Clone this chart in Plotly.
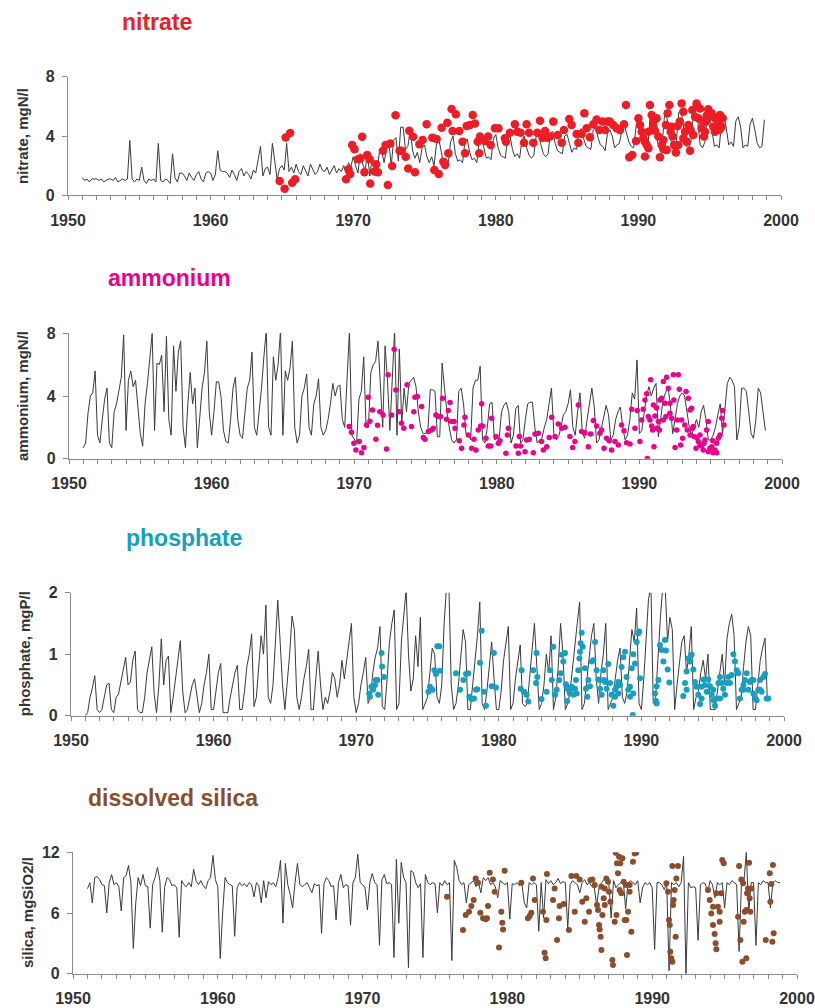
import plotly.graph_objects as go

# ---------------- data ----------------
START_YEAR = 1951
PER_YEAR = 6  # bi-monthly samples of the model line

nitrate_line = [
    [1.2, 1.0, 1.1, 0.9, 1.1, 1.1], [1.1, 1.0, 1.1, 0.9, 1.0, 1.1], [1.1, 1.0, 1.2, 0.9, 1.0, 1.1],
    [1.0, 1.1, 3.7, 1.1, 0.9, 1.1], [1.0, 1.9, 1.0, 0.8, 1.1, 1.0], [1.1, 0.9, 3.5, 1.0, 0.9, 1.1],
    [1.0, 0.8, 2.8, 1.2, 0.9, 1.5], [1.5, 1.3, 1.0, 1.5, 1.2, 1.0], [1.4, 1.6, 1.1, 0.9, 1.5, 1.6],
    [1.5, 1.0, 1.4, 3.0, 1.7, 1.6], [1.6, 1.5, 1.2, 1.7, 1.4, 1.0], [1.6, 1.8, 1.3, 1.6, 1.4, 1.1],
    [1.7, 1.5, 2.4, 3.3, 1.3, 1.8], [1.9, 1.4, 3.5, 2.2, 1.1, 1.8], [2.0, 1.7, 3.5, 1.6, 1.9, 1.5],
    [2.1, 1.6, 1.4, 2.0, 1.7, 1.3], [2.1, 1.8, 1.4, 1.6, 2.1, 1.7], [1.6, 1.9, 1.4, 1.7, 2.0, 1.5],
    [1.8, 1.6, 2.0, 1.5, 2.2, 1.9], [2.6, 2.0, 1.5, 2.8, 2.1, 1.7], [2.8, 1.3, 2.6, 2.0, 1.6, 2.9],
    [3.0, 2.2, 3.2, 3.6, 2.0, 3.7], [3.9, 2.3, 4.6, 4.6, 3.1, 3.3], [4.4, 3.0, 2.5, 2.9, 2.2, 3.2],
    [3.4, 2.6, 2.2, 2.6, 2.0, 3.4], [3.8, 3.0, 2.1, 2.5, 2.2, 3.6], [4.0, 2.8, 2.3, 2.4, 2.2, 3.6],
    [3.8, 2.9, 2.4, 2.5, 2.2, 3.6], [3.9, 3.2, 2.5, 2.6, 2.4, 3.8], [4.1, 3.2, 2.7, 2.6, 2.5, 3.9],
    [4.0, 3.1, 2.6, 2.8, 2.5, 3.7], [4.0, 3.2, 2.7, 2.5, 2.7, 4.0], [4.3, 3.4, 2.8, 2.6, 2.8, 4.2],
    [4.3, 3.5, 3.0, 2.9, 2.8, 4.0], [4.1, 3.5, 2.9, 3.2, 3.1, 4.3], [4.5, 3.8, 3.3, 3.2, 3.1, 4.4],
    [4.6, 3.9, 3.4, 3.3, 3.0, 4.2], [4.4, 4.0, 3.2, 3.4, 3.5, 4.3], [4.8, 4.2, 3.6, 3.3, 3.2, 4.6],
    [5.3, 4.2, 3.5, 3.4, 3.3, 5.5], [5.6, 4.8, 3.6, 3.2, 3.5, 5.4], [5.2, 4.5, 3.4, 3.3, 3.7, 5.6],
    [5.7, 4.6, 3.3, 3.2, 3.5, 5.2], [5.4, 5.0, 3.4, 3.2, 3.6, 5.5], [5.5, 4.3, 3.3, 3.4, 3.2, 5.0],
    [5.3, 4.5, 3.4, 3.6, 3.3, 5.0], [5.3, 4.6, 3.2, 3.4, 3.3, 4.8], [5.2, 4.4, 3.5, 3.2, 3.3, 5.1],
]

ammonium_line = [
    [0.7, 1.0, 2.9, 4.0, 4.2, 5.6], [1.5, 1.0, 2.5, 3.8, 4.5, 1.0], [0.7, 3.0, 3.5, 4.5, 5.2, 7.9],
    [1.8, 5.0, 5.6, 4.6, 5.0, 3.3], [1.6, 0.8, 3.5, 4.8, 6.7, 8.0], [1.8, 6.1, 6.0, 6.6, 3.0, 7.8],
    [2.5, 1.5, 7.2, 4.3, 6.8, 7.5], [2.0, 0.7, 3.5, 5.5, 3.5, 4.5], [0.7, 2.5, 4.5, 5.5, 7.5, 3.0],
    [1.5, 3.0, 4.9, 4.9, 3.9, 1.8], [1.1, 1.0, 2.5, 4.5, 5.2, 2.5], [1.5, 1.3, 3.0, 4.5, 5.0, 6.8],
    [2.0, 1.5, 3.0, 4.5, 6.5, 8.2], [2.0, 1.5, 6.5, 5.0, 6.0, 8.2], [1.5, 5.6, 5.0, 5.8, 7.5, 2.0],
    [1.0, 1.5, 4.0, 4.5, 5.4, 2.0], [1.5, 3.5, 4.0, 5.1, 2.0, 1.5], [1.8, 2.5, 3.5, 4.8, 4.0, 4.6],
    [4.7, 2.5, 2.0, 5.5, 8.2, 1.5], [1.2, 1.0, 3.8, 4.3, 6.5, 2.0], [2.0, 5.5, 6.0, 6.2, 7.5, 4.5],
    [2.0, 7.2, 5.0, 1.8, 5.0, 8.2], [1.5, 7.0, 2.2, 4.5, 3.0, 4.8], [5.0, 5.2, 4.6, 3.0, 2.0, 1.6],
    [1.6, 1.8, 4.4, 4.4, 4.3, 1.4], [1.4, 6.1, 4.5, 3.0, 2.0, 1.2], [1.0, 1.2, 4.3, 4.5, 3.5, 1.6],
    [1.6, 1.2, 4.5, 5.0, 5.0, 5.9], [1.2, 1.0, 2.0, 3.5, 3.6, 1.2], [1.3, 1.3, 3.0, 3.4, 3.6, 3.0],
    [1.0, 1.5, 3.2, 3.4, 1.0, 1.2], [2.5, 3.5, 3.6, 3.6, 2.0, 1.0], [1.2, 1.3, 2.0, 2.5, 3.5, 4.5],
    [1.6, 1.2, 1.4, 2.0, 2.8, 3.0], [3.5, 4.4, 2.0, 1.5, 3.0, 4.2], [1.6, 1.3, 2.5, 3.5, 4.5, 3.3],
    [1.0, 1.2, 2.0, 2.8, 3.4, 2.8], [1.2, 1.5, 2.5, 3.0, 3.3, 2.0], [1.2, 1.5, 2.5, 4.2, 3.8, 6.3],
    [1.6, 1.8, 3.0, 4.0, 4.6, 4.0], [4.5, 4.8, 1.4, 2.5, 3.8, 4.2], [4.6, 3.5, 1.6, 2.5, 3.5, 4.0],
    [4.2, 4.0, 3.0, 2.0, 1.5, 2.0], [2.5, 2.0, 3.0, 3.4, 2.5, 1.2], [1.2, 1.5, 2.0, 2.8, 3.5, 1.6],
    [3.0, 4.8, 5.2, 5.0, 4.6, 1.2], [2.0, 4.5, 4.5, 4.3, 3.0, 1.6], [1.3, 2.5, 4.5, 4.2, 3.0, 1.8],
]

phosphate_line = [
    [0.0, 0.05, 0.3, 0.45, 0.65, 0.1], [0.05, 0.1, 0.3, 0.5, 0.53, 0.1], [0.05, 0.3, 0.35, 0.55, 0.7, 0.95],
    [0.5, 0.55, 0.9, 1.05, 0.1, 0.05], [0.05, 0.3, 0.7, 0.9, 1.12, 0.35], [0.05, 0.5, 1.25, 0.5, 0.9, 0.97],
    [0.05, 0.3, 0.6, 0.9, 1.22, 0.4], [0.05, 0.1, 0.3, 0.5, 0.6, 0.3], [0.05, 0.2, 0.5, 0.7, 1.0, 0.1],
    [0.1, 0.4, 0.7, 0.85, 0.05, 0.05], [0.05, 0.3, 0.5, 0.7, 0.82, 0.1], [0.1, 0.4, 0.8, 1.0, 1.33, 0.15],
    [0.3, 0.8, 1.3, 1.0, 1.8, 0.3], [0.2, 0.5, 1.2, 1.88, 1.2, 0.5], [0.1, 0.5, 1.0, 1.62, 1.4, 0.3],
    [0.1, 0.3, 0.6, 0.8, 1.08, 0.1], [0.1, 0.6, 1.05, 0.5, 0.1, 0.3], [0.2, 0.4, 0.7, 0.6, 0.3, 0.5],
    [0.9, 0.6, 0.9, 1.2, 1.5, 0.3], [0.05, 0.2, 0.5, 0.7, 0.95, 0.2], [0.3, 0.7, 0.95, 1.1, 1.45, 0.15],
    [0.1, 0.6, 1.2, 1.5, 1.72, 0.1], [0.2, 1.2, 1.6, 2.05, 1.0, 0.4], [0.6, 1.3, 0.8, 1.6, 0.1, 0.2],
    [0.3, 0.7, 1.1, 1.0, 0.3, 0.2], [0.5, 1.5, 2.1, 2.1, 0.5, 0.1], [0.2, 0.5, 1.0, 1.4, 1.2, 0.1],
    [0.1, 0.5, 0.9, 1.3, 1.85, 0.2], [0.1, 0.4, 0.8, 1.2, 0.6, 0.1], [0.1, 0.4, 0.9, 1.2, 1.45, 0.1],
    [0.2, 0.6, 0.9, 1.15, 0.2, 0.15], [0.2, 0.6, 1.0, 1.5, 0.8, 0.1], [0.2, 0.5, 1.0, 0.7, 1.3, 0.1],
    [0.3, 0.8, 1.5, 1.0, 0.1, 0.2], [0.4, 0.8, 1.2, 1.5, 1.85, 0.1], [0.2, 0.6, 1.0, 1.3, 1.5, 0.6],
    [0.2, 0.7, 1.0, 1.5, 0.1, 0.2], [0.3, 0.6, 0.9, 1.1, 0.3, 0.2], [0.4, 0.9, 1.4, 1.2, 1.75, 0.2],
    [0.1, 0.6, 1.2, 1.9, 2.1, 0.2], [0.3, 1.0, 1.6, 2.1, 2.1, 1.2], [1.6, 1.4, 0.1, 0.5, 0.9, 1.2],
    [1.3, 0.7, 1.0, 1.45, 0.1, 0.3], [0.4, 0.7, 0.9, 0.6, 1.0, 0.1], [0.1, 0.1, 0.4, 0.7, 1.0, 0.5],
    [1.25, 1.5, 1.65, 1.3, 0.1, 0.2], [0.3, 0.8, 1.2, 1.45, 1.3, 0.1], [0.1, 0.5, 0.9, 1.1, 1.26, 0.25],
]

silica_line = [
    [8.4, 9.0, 7.0, 9.5, 9.6, 9.3], [8.8, 8.7, 6.0, 9.0, 9.8, 8.8], [9.0, 8.6, 6.2, 9.5, 9.7, 10.7],
    [9.0, 2.5, 7.0, 9.5, 8.7, 9.8], [8.7, 8.6, 4.5, 8.8, 9.5, 10.5], [9.2, 4.1, 8.6, 9.5, 9.3, 8.7],
    [8.8, 8.5, 3.6, 9.2, 8.8, 8.6], [9.0, 8.6, 10.3, 9.2, 8.8, 9.2], [8.7, 8.4, 9.2, 9.5, 11.7, 9.3],
    [8.6, 1.5, 6.0, 9.5, 9.0, 8.8], [8.7, 3.7, 8.5, 9.0, 8.7, 8.9], [8.6, 9.0, 8.8, 7.6, 9.0, 8.7],
    [7.0, 9.2, 7.5, 9.1, 8.8, 9.0], [8.6, 9.5, 11.2, 5.0, 10.9, 8.8], [7.8, 6.5, 9.0, 10.9, 8.8, 8.6],
    [8.8, 9.0, 8.5, 8.0, 8.9, 8.7], [8.8, 4.0, 8.9, 9.5, 9.2, 8.6], [8.7, 5.3, 9.0, 9.8, 8.5, 8.8],
    [8.7, 4.8, 9.0, 9.5, 11.8, 9.0], [8.8, 8.5, 6.3, 9.0, 9.9, 9.0], [8.8, 2.8, 9.3, 9.8, 8.9, 9.0],
    [8.8, 1.6, 11.3, 5.0, 11.0, 9.5], [9.0, 0.6, 10.2, 10.0, 9.0, 8.5], [8.9, 1.6, 9.8, 9.0, 8.8, 9.0],
    [8.9, 6.0, 9.0, 8.7, 9.2, 8.8], [9.0, 1.3, 11.2, 10.5, 9.2, 8.8], [9.0, 7.0, 8.8, 9.0, 9.2, 8.6],
    [9.0, 8.0, 9.5, 9.2, 9.5, 8.8], [9.0, 8.6, 7.5, 9.2, 9.0, 8.8], [9.0, 5.4, 8.9, 8.8, 9.0, 8.7],
    [8.9, 7.0, 6.5, 9.0, 8.8, 9.0], [8.8, 4.2, 9.0, 5.5, 9.3, 8.9], [9.2, 8.8, 9.0, 9.4, 8.9, 9.1],
    [9.0, 4.5, 8.8, 9.2, 9.0, 8.8], [8.0, 9.0, 9.3, 8.8, 9.0, 8.6], [8.5, 6.8, 8.5, 9.0, 9.3, 9.5],
    [9.0, 5.5, 9.2, 8.5, 8.8, 9.0], [9.2, 6.4, 9.0, 9.2, 9.0, 8.8], [9.2, 7.0, 8.5, 9.0, 8.8, 9.0],
    [8.5, 2.4, 9.0, 9.0, 8.8, 8.3], [9.0, 0.3, 9.0, 8.8, 9.0, 8.6], [9.0, 11.6, 0.0, 9.0, 8.5, 8.6],
    [8.5, 3.3, 8.8, 9.0, 8.9, 8.0], [9.2, 8.8, 7.5, 9.0, 8.8, 9.0], [6.5, 9.0, 8.8, 9.2, 9.0, 8.8],
    [2.2, 9.0, 9.1, 12.0, 6.0, 9.0], [9.0, 2.8, 9.0, 8.8, 9.2, 9.0], [9.0, 6.5, 9.0, 9.2, 9.0, 9.0],
]

nitrate_obs = [
    (1964.84, 0.97), (1965.19, 0.45), (1965.26, 3.9), (1965.58, 4.2), (1965.72, 0.85), (1965.93, 1.08),
    (1969.5, 1.08), (1969.67, 1.75), (1969.79, 1.44), (1969.93, 3.4), (1970.09, 3.1), (1970.33, 2.43),
    (1970.51, 2.5), (1970.63, 3.95), (1970.79, 1.55), (1970.98, 2.72), (1971.14, 2.43), (1971.19, 0.79),
    (1971.5, 1.6), (1971.61, 2.1), (1971.73, 1.55), (1972.08, 3.0), (1972.27, 3.4), (1972.43, 0.7),
    (1972.6, 3.5), (1972.73, 1.98), (1972.97, 5.4), (1973.25, 3.0), (1973.4, 3.0), (1973.68, 2.6),
    (1973.86, 1.8), (1973.93, 4.36), (1974.2, 3.95), (1974.33, 1.55), (1974.64, 3.44), (1974.87, 3.73),
    (1975.15, 4.79), (1975.55, 3.89), (1975.69, 1.7), (1975.85, 3.8), (1976.0, 1.44), (1976.2, 4.56),
    (1976.32, 2.27), (1976.44, 2.04), (1976.6, 4.9), (1976.67, 2.83), (1976.9, 5.82), (1976.97, 4.34),
    (1977.2, 5.46), (1977.44, 4.34), (1977.67, 3.62), (1977.84, 2.83), (1977.96, 4.67), (1978.19, 4.74),
    (1978.38, 5.42), (1978.54, 4.85), (1978.73, 3.62), (1978.84, 2.83), (1978.89, 3.96), (1979.24, 3.66),
    (1979.47, 3.96), (1979.64, 3.4), (1979.94, 4.52), (1980.18, 4.52), (1980.64, 3.84), (1980.71, 3.62),
    (1980.99, 4.22), (1981.34, 4.79), (1981.51, 4.29), (1981.74, 4.22), (1981.98, 3.55), (1982.16, 4.79),
    (1982.33, 4.22), (1982.63, 3.55), (1982.91, 4.22), (1983.1, 5.03), (1983.28, 3.89), (1983.45, 4.34),
    (1983.61, 3.89), (1983.8, 3.96), (1984.03, 4.97), (1984.34, 4.07), (1984.62, 3.55), (1984.78, 4.4),
    (1985.15, 5.15), (1985.32, 4.74), (1985.67, 4.13), (1985.79, 3.55), (1986.02, 4.13), (1986.21, 5.53),
    (1986.37, 4.52), (1986.6, 3.91), (1986.84, 4.79), (1987.07, 5.12), (1987.26, 4.4), (1987.49, 4.97),
    (1987.66, 4.4), (1987.82, 4.97), (1988.0, 4.97), (1988.24, 4.74), (1988.47, 4.52), (1988.71, 4.4),
    (1988.99, 4.79), (1989.13, 6.09), (1989.36, 2.56), (1989.57, 2.72), (1989.83, 3.66), (1990.0, 5.19),
    (1990.11, 4.74), (1990.23, 4.29), (1990.34, 3.84), (1990.46, 2.61), (1990.58, 3.39), (1990.7, 3.17),
    (1990.81, 6.09), (1990.93, 5.42), (1991.05, 4.97), (1991.16, 4.36), (1991.28, 5.19), (1991.4, 3.96),
    (1991.51, 2.56), (1991.63, 3.39), (1991.75, 3.1), (1991.93, 4.74), (1992.05, 5.53), (1992.17, 6.09),
    (1992.26, 4.29), (1992.4, 3.96), (1992.5, 3.39), (1992.63, 2.88), (1992.75, 4.67), (1992.91, 4.97),
    (1993.03, 6.2), (1993.15, 5.64), (1993.27, 4.29), (1993.38, 3.62), (1993.5, 4.74), (1993.62, 3.01),
    (1993.78, 5.75), (1993.97, 5.3), (1994.08, 6.2), (1994.2, 5.19), (1994.32, 5.86), (1994.43, 4.52),
    (1994.6, 3.96), (1994.74, 4.97), (1994.9, 5.8), (1995.02, 5.42), (1995.14, 5.53), (1995.25, 4.63),
    (1995.37, 5.19), (1995.49, 4.52), (1995.6, 4.97), (1995.72, 5.42), (1995.84, 4.63), (1995.91, 5.19),
    (1990.46, 3.62), (1991.05, 4.63), (1990.7, 4.29), (1991.75, 3.73), (1991.98, 3.06), (1992.33, 4.63),
    (1992.8, 3.39), (1993.15, 3.84), (1993.66, 4.4), (1993.85, 4.07), (1994.5, 5.0), (1994.67, 4.29),
    (1994.79, 5.39), (1995.37, 4.29), (1995.68, 4.4),
]

ammonium_obs = [
    (1969.65, 2.05), (1969.81, 1.68), (1969.98, 0.98), (1970.12, 0.55), (1970.35, 1.09), (1970.51, 0.38),
    (1970.68, 0.72), (1970.86, 2.15), (1970.98, 3.92), (1971.1, 2.39), (1971.28, 3.11), (1971.52, 1.24),
    (1971.64, 2.13), (1971.8, 3.0), (1972.03, 2.79), (1972.27, 0.62), (1972.38, 5.35), (1972.62, 2.79),
    (1972.8, 6.99), (1972.92, 4.39), (1973.15, 3.0), (1973.32, 2.26), (1973.48, 1.94), (1973.71, 4.71),
    (1974.02, 2.05), (1974.18, 3.0), (1974.26, 3.92), (1974.43, 3.97), (1974.73, 3.33), (1974.85, 1.36),
    (1974.96, 1.24), (1975.2, 1.73), (1975.43, 1.83), (1975.55, 1.94), (1975.73, 2.79), (1975.9, 2.69),
    (1976.06, 2.69), (1976.2, 3.86), (1976.48, 2.52), (1976.6, 3.07), (1976.72, 3.58), (1976.83, 2.37),
    (1977.0, 2.37), (1977.07, 1.94), (1977.37, 1.15), (1977.53, 0.66), (1977.7, 2.15), (1977.77, 2.64),
    (1978.0, 1.51), (1978.24, 0.66), (1978.4, 1.24), (1978.54, 0.55), (1978.7, 1.83), (1978.87, 2.09),
    (1978.94, 3.5), (1979.01, 2.09), (1979.24, 1.3), (1979.4, 0.81), (1979.57, 0.81), (1979.64, 2.58),
    (1979.94, 1.41), (1980.11, 0.98), (1980.22, 1.15), (1980.64, 0.34), (1980.74, 1.51), (1980.81, 1.94),
    (1981.35, 0.81), (1981.51, 0.34), (1981.58, 1.41), (1981.67, 0.81), (1981.98, 0.45), (1982.09, 1.19),
    (1982.28, 1.24), (1982.56, 0.38), (1982.68, 1.58), (1982.91, 1.62), (1983.14, 1.09), (1983.26, 0.55),
    (1983.5, 0.77), (1983.68, 1.36), (1983.85, 2.64), (1984.08, 1.41), (1984.31, 2.22), (1984.55, 1.94),
    (1984.78, 2.0), (1985.13, 1.41), (1985.32, 0.72), (1985.48, 1.09), (1985.72, 3.43), (1985.95, 1.73),
    (1986.18, 1.66), (1986.42, 0.77), (1986.58, 1.58), (1986.77, 2.43), (1987.0, 2.09), (1987.23, 1.62),
    (1987.35, 1.83), (1987.52, 0.66), (1987.7, 1.3), (1987.89, 1.15), (1988.05, 0.55), (1988.29, 1.09),
    (1988.52, 0.87), (1988.75, 2.15), (1988.92, 1.79), (1989.1, 1.02), (1989.34, 0.94), (1989.46, 3.16),
    (1989.69, 1.94), (1989.85, 3.07), (1990.04, 1.09), (1990.16, 2.47), (1990.27, 3.16), (1990.39, 3.75),
    (1990.51, 4.14), (1990.55, 0.02), (1990.62, 2.69), (1990.79, 5.03), (1990.86, 2.09), (1990.98, 3.43),
    (1991.02, 0.77), (1991.09, 2.73), (1991.21, 1.94), (1991.33, 2.37), (1991.44, 3.75), (1991.56, 3.86),
    (1991.68, 4.93), (1991.79, 3.54), (1991.91, 5.2), (1992.03, 4.5), (1992.14, 3.54), (1992.26, 2.58),
    (1992.38, 5.35), (1992.5, 0.72), (1992.61, 1.83), (1992.73, 5.35), (1992.8, 4.43), (1992.89, 0.87),
    (1993.03, 1.3), (1993.19, 2.15), (1993.27, 4.29), (1993.43, 3.86), (1993.55, 3.11), (1993.66, 3.22),
    (1993.73, 1.94), (1993.83, 1.41), (1993.97, 0.66), (1994.13, 1.09), (1994.25, 1.51), (1994.36, 0.81),
    (1994.48, 0.55), (1994.6, 1.19), (1994.71, 1.83), (1994.83, 2.37), (1994.95, 0.66), (1995.07, 0.77),
    (1995.18, 0.38), (1995.3, 0.55), (1995.42, 0.98), (1995.53, 1.3), (1995.65, 1.51), (1995.77, 2.58),
    (1995.84, 3.07), (1995.93, 2.15), (1990.74, 2.47), (1990.93, 1.83), (1991.21, 3.24), (1991.4, 1.83),
    (1991.68, 2.47), (1991.86, 2.69), (1992.14, 2.9), (1992.42, 3.75), (1992.66, 2.47), (1992.96, 2.47),
    (1993.36, 1.83), (1993.55, 1.51), (1993.78, 2.05), (1994.02, 1.36), (1994.25, 0.87), (1994.53, 0.98),
    (1994.83, 0.45), (1995.14, 1.15), (1995.42, 0.38),
]

phosphate_obs = [
    (1970.91, 0.36), (1970.96, 0.31), (1971.07, 0.47), (1971.19, 0.42), (1971.31, 0.5), (1971.38, 0.58),
    (1971.49, 0.58), (1971.54, 0.34), (1971.78, 1.02), (1971.82, 0.8), (1971.94, 0.63),
    (1975.06, 0.39), (1975.17, 0.47), (1975.36, 0.42), (1975.48, 0.74), (1975.59, 0.68), (1975.69, 1.13),
    (1975.83, 1.13), (1975.87, 0.73), (1977.0, 0.69), (1977.28, 0.42), (1977.51, 0.58), (1977.7, 0.68),
    (1977.86, 0.69), (1977.93, 0.31), (1978.1, 0.27), (1978.26, 0.28), (1978.4, 0.42), (1978.49, 0.43),
    (1978.68, 0.86), (1978.8, 1.38), (1978.96, 0.39), (1979.1, 0.16), (1979.5, 0.48), (1979.66, 1.02),
    (1979.8, 0.46), (1981.53, 0.44), (1981.6, 0.74), (1981.77, 0.39), (1981.95, 0.34), (1982.07, 0.23),
    (1982.42, 0.74), (1982.61, 0.53), (1982.65, 1.02), (1982.7, 0.63), (1983.0, 0.27), (1983.35, 0.39),
    (1983.59, 0.74), (1983.71, 0.58), (1983.82, 1.12), (1983.94, 0.34), (1984.06, 0.42), (1984.24, 0.58),
    (1984.34, 0.69), (1984.41, 0.99), (1984.52, 0.88), (1984.64, 1.02), (1984.71, 0.51), (1984.8, 0.24),
    (1984.87, 0.42), (1984.99, 0.36), (1985.11, 0.47), (1985.23, 0.34), (1985.34, 0.44), (1985.41, 0.58),
    (1985.58, 0.74), (1985.65, 0.93), (1985.69, 1.04), (1985.74, 1.18), (1985.81, 1.35), (1985.88, 1.12),
    (1986.04, 0.77), (1986.11, 0.44), (1986.21, 0.31), (1986.39, 0.48), (1986.51, 0.88), (1986.63, 0.9),
    (1986.75, 1.2), (1986.86, 0.74), (1986.98, 0.59), (1987.1, 0.44), (1987.21, 0.34), (1987.33, 0.74),
    (1987.45, 0.55), (1987.56, 0.44), (1987.68, 0.84), (1987.8, 0.53), (1987.91, 0.34), (1988.03, 0.16),
    (1988.15, 0.31), (1988.26, 0.47), (1988.38, 0.55), (1988.5, 0.5), (1988.61, 0.79), (1988.73, 0.95),
    (1988.85, 1.04), (1988.96, 0.63), (1989.08, 0.42), (1989.2, 0.31), (1989.32, 0.77), (1989.39, 0.01),
    (1989.43, 1.0), (1989.55, 0.85), (1989.67, 1.2), (1989.78, 1.34), (1989.85, 1.37), (1989.9, 0.61),
    (1990.95, 0.36), (1991.02, 0.24), (1991.07, 0.48), (1991.19, 0.58), (1991.3, 1.15), (1991.42, 1.07),
    (1991.54, 0.88), (1991.65, 1.23), (1991.72, 1.06), (1991.84, 0.75), (1991.96, 0.54), (1992.94, 0.32),
    (1993.06, 0.53), (1993.17, 0.72), (1993.29, 0.93), (1993.41, 0.88), (1993.52, 0.99), (1993.64, 0.75),
    (1993.76, 0.55), (1993.87, 0.47), (1993.99, 0.34), (1994.11, 0.19), (1994.22, 0.28), (1994.34, 0.59),
    (1994.46, 0.5), (1994.58, 0.39), (1994.69, 0.59), (1994.81, 0.48), (1994.93, 0.34), (1995.04, 0.25),
    (1995.16, 0.16), (1995.28, 0.28), (1995.4, 0.53), (1995.51, 0.63), (1995.63, 0.53), (1995.74, 0.44),
    (1995.86, 0.34), (1995.98, 0.53), (1996.1, 0.63), (1996.21, 0.53), (1996.33, 0.66), (1996.45, 1.0),
    (1996.56, 0.88), (1996.68, 0.74), (1996.8, 0.69), (1996.91, 0.28), (1997.03, 0.42), (1997.15, 0.5),
    (1997.26, 0.58), (1997.38, 0.69), (1997.5, 0.42), (1997.61, 0.55), (1997.73, 0.58), (1997.85, 0.36),
    (1997.97, 0.28), (1998.08, 0.25), (1998.2, 0.42), (1998.32, 0.58), (1998.43, 0.39), (1998.55, 0.63),
    (1998.67, 0.68), (1998.78, 0.28), (1998.9, 0.28), (1984.76, 0.47), (1985.04, 0.44), (1985.46, 0.36),
    (1986.28, 0.58), (1987.1, 0.58), (1987.38, 0.58), (1988.15, 0.42), (1988.38, 0.36), (1989.2, 0.47),
    (1989.43, 0.36), (1991.07, 0.2), (1993.17, 0.42), (1994.22, 0.47), (1995.04, 0.42), (1995.51, 0.28),
    (1997.15, 0.42), (1997.85, 0.58), (1998.32, 0.42),
]

silica_obs = [
    (1975.83, 7.61), (1976.93, 4.32), (1977.12, 5.8), (1977.35, 6.13), (1977.51, 6.69), (1977.67, 7.28),
    (1977.81, 9.42), (1977.97, 9.0), (1978.13, 6.03), (1978.32, 5.47), (1978.5, 5.37), (1978.59, 5.47),
    (1978.66, 6.69), (1978.78, 9.98), (1979.0, 9.32), (1979.12, 8.11), (1979.42, 2.6), (1979.58, 6.13),
    (1979.65, 5.04), (1979.7, 4.38), (1979.81, 10.18), (1980.96, 9.0), (1981.42, 5.47), (1981.54, 5.7),
    (1981.65, 6.03), (1981.77, 9.42), (1981.88, 7.28), (1982.46, 6.13), (1982.57, 2.08), (1982.64, 1.52),
    (1982.69, 5.3), (1982.73, 9.85), (1983.15, 7.28), (1983.26, 8.43), (1983.43, 3.33), (1983.56, 5.47),
    (1983.61, 6.69), (1983.89, 6.89), (1984.25, 4.32), (1984.42, 9.65), (1984.65, 6.13), (1984.76, 9.65),
    (1984.99, 9.32), (1985.17, 7.12), (1985.34, 5.14), (1985.45, 7.45), (1985.64, 6.13), (1985.73, 9.26),
    (1985.87, 9.32), (1986.03, 8.76), (1986.19, 6.79), (1986.26, 6.29), (1986.33, 4.81), (1986.37, 4.38),
    (1986.44, 3.66), (1986.49, 2.34), (1986.56, 5.8), (1986.65, 7.45), (1986.72, 8.43), (1986.83, 9.42),
    (1986.95, 9.09), (1987.02, 8.11), (1987.11, 7.12), (1987.25, 1.35), (1987.29, 0.86), (1987.41, 5.14),
    (1987.48, 11.96), (1987.57, 10.91), (1987.64, 9.92), (1987.71, 11.56), (1987.8, 10.91), (1987.94, 11.4),
    (1988.03, 9.09), (1988.17, 8.76), (1988.21, 5.3), (1988.26, 1.85), (1988.33, 6.13), (1988.44, 8.11),
    (1988.56, 4.15), (1988.67, 11.07), (1988.79, 11.89), (1988.9, 11.96), (1990.98, 8.93), (1991.09, 8.11),
    (1991.16, 5.3), (1991.21, 4.81), (1991.25, 2.17), (1991.32, 1.52), (1991.39, 1.19), (1991.44, 6.79),
    (1991.48, 7.28), (1991.55, 8.27), (1991.62, 3.66), (1991.67, 9.42), (1991.78, 10.64), (1991.39, 10.64),
    (1993.85, 8.27), (1993.97, 7.28), (1994.08, 5.96), (1994.2, 4.81), (1994.31, 3.92), (1994.38, 3.0),
    (1994.43, 2.41), (1994.54, 6.62), (1994.66, 5.14), (1994.77, 7.94), (1994.84, 11.24), (1994.94, 10.91),
    (1995.93, 5.63), (1996.0, 10.64), (1996.09, 3.33), (1996.16, 9.32), (1996.23, 1.19), (1996.32, 5.14),
    (1996.39, 6.13), (1996.5, 1.52), (1996.55, 7.94), (1996.62, 8.43), (1996.69, 10.97), (1996.78, 6.13),
    (1996.85, 8.43), (1997.84, 3.33), (1998.12, 9.92), (1998.16, 7.12), (1998.23, 8.86), (1998.3, 3.16),
    (1998.34, 10.74), (1998.39, 3.99), (1987.75, 8.27), (1987.87, 7.94), (1988.44, 8.76), (1988.1, 5.3),
    (1987.53, 5.8), (1986.49, 8.6), (1986.72, 6.79), (1994.2, 6.62), (1994.43, 7.94), (1994.66, 6.13),
    (1996.28, 8.93), (1996.5, 6.29), (1996.73, 7.45),
]

# ---------------- styling / layout ----------------
W, H = 815, 1008
LINE_COLOR = "#3a3a3a"
AXIS_COLOR = "#8c8c8c"
TEXT_COLOR = "#333333"
FONT = "Liberation Sans, Arial, sans-serif"

panels = [
    dict(name="nitrate", color="#ee1c25", line=nitrate_line, obs=nitrate_obs, msize=8.5,
         ytitle="nitrate, mgN/l", yrange=[0, 8], dtick=4,
         px=(68, 781), py=(76.7, 195.3), title_xy=(157, 22), ytitle_x=23),
    dict(name="ammonium", color="#ec008c", line=ammonium_line, obs=ammonium_obs, msize=5.5,
         ytitle="ammonium, mgN/l", yrange=[0, 8], dtick=4,
         px=(69, 782), py=(333.3, 458.7), title_xy=(169, 278), ytitle_x=23),
    dict(name="phosphate", color="#169fc0", line=phosphate_line, obs=phosphate_obs, msize=6,
         ytitle="phosphate, mgP/l", yrange=[0, 2], dtick=1,
         px=(71, 784), py=(592.7, 715.7), title_xy=(184, 538), ytitle_x=24),
    dict(name="dissolved silica", color="#8b4d2c", line=silica_line, obs=silica_obs, msize=6,
         ytitle="silica, mgSiO2/l", yrange=[0, 12], dtick=6,
         px=(73, 797), py=(852.3, 973.7), title_xy=(173, 798), ytitle_x=27),
]

fig = go.Figure()
annotations = []
layout_axes = {}

for i, p in enumerate(panels, start=1):
    xa = "x" if i == 1 else f"x{i}"
    ya = "y" if i == 1 else f"y{i}"
    vals = [v for year in p["line"] for v in year]
    xs = [START_YEAR + k / PER_YEAR for k in range(len(vals))]
    fig.add_trace(go.Scatter(x=xs, y=vals, mode="lines", xaxis=xa, yaxis=ya,
                             line=dict(color=LINE_COLOR, width=1), showlegend=False,
                             hoverinfo="skip"))
    ox = [o[0] for o in p["obs"]]
    oy = [o[1] for o in p["obs"]]
    fig.add_trace(go.Scatter(x=ox, y=oy, mode="markers", xaxis=xa, yaxis=ya,
                             marker=dict(color=p["color"], size=p["msize"], line=dict(width=0)),
                             showlegend=False, cliponaxis=True))

    x0, x1 = p["px"]
    ytop, ybot = p["py"]
    xkey = "xaxis" if i == 1 else f"xaxis{i}"
    ykey = "yaxis" if i == 1 else f"yaxis{i}"
    layout_axes[xkey] = dict(
        domain=[x0 / W, x1 / W], range=[1950, 2000], anchor=ya, automargin=False,
        tickmode="linear", tick0=1950, dtick=10,
        ticks="outside", ticklen=4, tickcolor=AXIS_COLOR, tickwidth=1,
        minor=dict(ticks="outside", dtick=1, tick0=1950, ticklen=4, tickcolor=AXIS_COLOR, tickwidth=1,
                   showgrid=False),
        showline=True, linecolor=AXIS_COLOR, linewidth=1.2,
        showgrid=False, zeroline=False,
        tickfont=dict(family=FONT, size=16, color=TEXT_COLOR, weight="bold"),
        ticklabelstandoff=6,
    )
    layout_axes[ykey] = dict(
        domain=[1 - ybot / H, 1 - ytop / H], range=p["yrange"], anchor=xa, automargin=False,
        tickmode="linear", tick0=0, dtick=p["dtick"],
        ticks="outside", ticklen=5, tickcolor=AXIS_COLOR, tickwidth=1,
        showline=True, linecolor=AXIS_COLOR, linewidth=1.2,
        showgrid=False, zeroline=False,
        tickfont=dict(family=FONT, size=16, color=TEXT_COLOR, weight="bold"),
        ticklabelstandoff=4,
    )
    tx, ty = p["title_xy"]
    annotations.append(dict(text=p["name"], xref="paper", yref="paper", x=tx / W, y=1 - ty / H,
                            xanchor="center", yanchor="middle", showarrow=False,
                            font=dict(family=FONT, size=23, color=p["color"], weight="bold")))
    annotations.append(dict(text=p["ytitle"], xref="paper", yref="paper",
                            x=p["ytitle_x"] / W, y=1 - (ytop + ybot) / 2 / H,
                            xanchor="center", yanchor="middle", textangle=-90, showarrow=False,
                            font=dict(family=FONT, size=15, color=TEXT_COLOR, weight="bold")))

fig.update_layout(
    template="none",
    width=W, height=H,
    margin=dict(l=0, r=0, t=0, b=0, autoexpand=False),
    paper_bgcolor="white", plot_bgcolor="white",
    annotations=annotations,
    **layout_axes,
)

fig.write_html("out.html", config={"displayModeBar": False})
